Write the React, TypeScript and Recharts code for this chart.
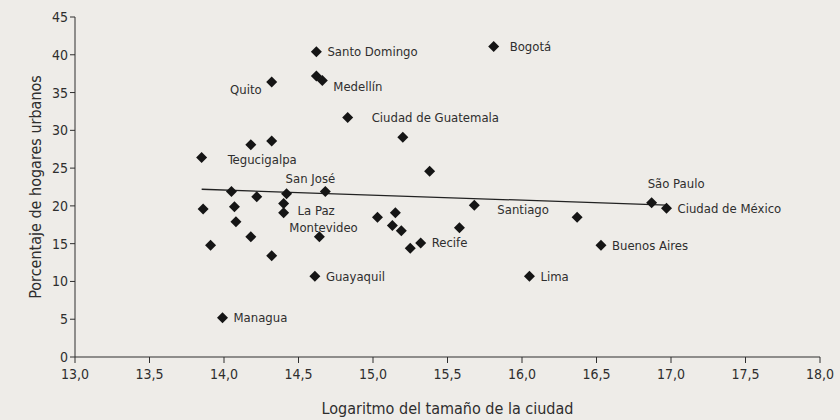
import { Scatter, ScatterChart, XAxis, YAxis, LabelList } from 'recharts'

// log city size / % urban households
const cities = ['Tegucigalpa', '', '', 'San José', '', '', 'Santiago', '', '', '', 'La Paz', '', '', '', '', '', '', 'Recife', '', '', '', 'Montevideo', '', 'Guayaquil', 'Managua', '', 'São Paulo', 'Ciudad de México', 'Buenos Aires', 'Lima', 'Santo Domingo', 'Bogotá', 'Quito', '', 'Medellín', 'Ciudad de Guatemala', '', '', '']
const logSize = [13.85, 14.05, 14.22, 14.42, 14.68, 15.38, 15.68, 13.86, 14.07, 14.4, 14.4, 14.08, 15.03, 15.15, 15.13, 15.19, 15.58, 15.32, 15.25, 14.18, 13.91, 14.64, 14.32, 14.61, 13.99, 16.37, 16.87, 16.97, 16.53, 16.05, 14.62, 15.81, 14.32, 14.62, 14.66, 14.83, 15.2, 14.18, 14.32]
const urbanPct = [26.4, 21.9, 21.2, 21.6, 21.9, 24.6, 20.1, 19.6, 19.9, 20.3, 19.1, 17.9, 18.5, 19.1, 17.4, 16.7, 17.1, 15.1, 14.4, 15.9, 14.8, 15.9, 13.4, 10.7, 5.2, 18.5, 20.4, 19.7, 14.8, 10.7, 40.4, 41.1, 36.4, 37.2, 36.6, 31.7, 29.1, 28.1, 28.6]

const fitX = [13.85, 16.97]
const fitY = [22.2, 20.1]

const xTicks = [13, 13.5, 14, 14.5, 15, 15.5, 16, 16.5, 17, 17.5, 18]
const yTicks = [0, 5, 10, 15, 20, 25, 30, 35, 40, 45]

const points = logSize.map((x, i) => ({ x, y: urbanPct[i], name: cities[i] }))
const fit = fitX.map((x, i) => ({ x, y: fitY[i] }))

// where each label sits relative to its marker
const labelOffset: Record<string, [number, number, string]> = {
  'Quito': [-10, 7, 'end'],
  'San José': [-1, -15, 'start'],
  'Montevideo': [-30, -9, 'start'],
  'São Paulo': [-4, -19, 'start'],
  'Tegucigalpa': [26, 2, 'start'],
  'Santiago': [23, 4, 'start'],
  'Medellín': [11, 6, 'start'],
  'Ciudad de Guatemala': [24, 0, 'start'],
  'Bogotá': [16, 0, 'start'],
  'La Paz': [14, -2, 'start'],
}

const font = "'DejaVu Sans Condensed', 'Roboto', sans-serif"
const ink = '#2e2e2e'

const Diamond = (props: any) => {
  const { cx, cy } = props
  const r = 5.5
  return <polygon points={`${cx},${cy - r} ${cx + r},${cy} ${cx},${cy + r} ${cx - r},${cy}`} fill='#151515' />
}

const NoDot = () => null

const CityLabel = (props: any) => {
  const { x, y, width, height, value } = props
  if (!value) return null
  const cx = x + width / 2
  const cy = y + height / 2
  const [dx, dy, anchor] = labelOffset[value] ?? [11, 0, 'start']
  return (
    <text x={cx + dx} y={cy + dy} dy='0.35em' textAnchor={anchor} fontSize={13} fontFamily={font} fill={ink}>
      {value}
    </text>
  )
}

export default function App() {
  return (
    <div style={{ position: 'absolute', left: 0, top: 0, width: 840, height: 420, background: '#eeece8' }}>
      <ScatterChart width={840} height={420} margin={{ top: 17, right: 20, bottom: 8, left: 25 }}>
        <XAxis
          type='number'
          dataKey='x'
          domain={[13, 18]}
          ticks={xTicks}
          tickFormatter={(v) => v.toFixed(1).replace('.', ',')}
          stroke={ink}
          tickSize={6}
          tickMargin={6}
          height={55}
          tick={{ fontSize: 14, fontFamily: font, fill: ink }}
          label={{ value: 'Logaritmo del tamaño de la ciudad', position: 'insideBottom', offset: -2, fontSize: 16, fontFamily: font, fill: ink }}
        />
        <YAxis
          type='number'
          dataKey='y'
          domain={[0, 45]}
          ticks={yTicks}
          stroke={ink}
          tickSize={5}
          width={50}
          tick={{ fontSize: 14, fontFamily: font, fill: ink }}
          label={{ value: 'Porcentaje de hogares urbanos', angle: -90, position: 'insideLeft', offset: 10, style: { textAnchor: 'middle' }, fontSize: 16, fontFamily: font, fill: ink }}
        />
        <Scatter data={fit} line={{ stroke: '#222', strokeWidth: 1.3 }} shape={<NoDot />} isAnimationActive={false} />
        <Scatter data={points} shape={<Diamond />} isAnimationActive={false}>
          <LabelList dataKey='name' content={<CityLabel />} />
        </Scatter>
      </ScatterChart>
    </div>
  )
}
